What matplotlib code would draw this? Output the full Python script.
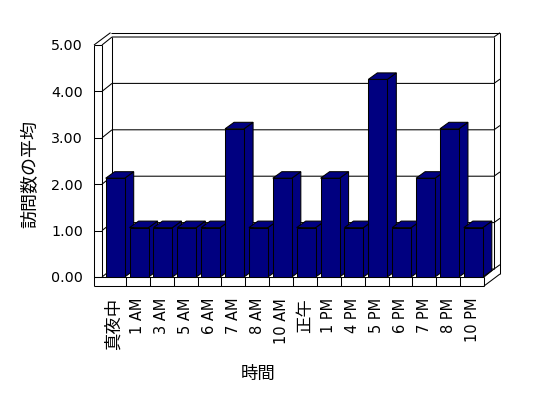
import matplotlib
matplotlib.use('Agg')
import matplotlib.pyplot as plt
from matplotlib.patches import Polygon
import numpy as np

plt.rcParams['font.family'] = ['DejaVu Sans', 'Noto Sans CJK JP']

# ---- data ----
categories = ['真夜中', '1 AM', '3 AM', '5 AM', '6 AM', '7 AM', '8 AM', '10 AM',
              '正午', '1 PM', '4 PM', '5 PM', '6 PM', '7 PM', '8 PM', '10 PM']
values = [2, 1, 1, 1, 1, 3, 1, 2, 1, 2, 1, 4, 1, 2, 3, 1]
y_ticks = [0, 1, 2, 3, 4, 5]
y_tick_labels = ['0.00', '1.00', '2.00', '3.00', '4.00', '5.00']
x_title = '時間'
y_title = '訪問数の平均'

W, H = 548, 398
fig = plt.figure(figsize=(W / 100, H / 100), dpi=100)


def fx(x):
    return x / W


def fy(y):
    return (H - y) / H


def rect(l, r, t, b):
    return [fx(l), fy(b), fx(r) - fx(l), fy(t) - fy(b)]


# ---- frame geometry (pixels) ----
FL, FR = 102, 484          # front plane left/right
FB = 277                   # front floor line
PXU = 46.4                 # px per unit on walls
DX, DY = 10, 8             # wall depth
BL, BR, BB = FL + DX, FR + DX, FB - DY
BT = BB - 5 * PXU
TX, TY = 6, 4.3            # wall thickness offsets
OUTX = 94                  # left wall outer
FLOOR_BOT = 286
BAR_PXU = 49.4             # bar px per unit (3D rendering)
LW = 0.75

canvas = fig.add_axes([0, 0, 1, 1])
canvas.set_xlim(0, W)
canvas.set_ylim(H, 0)
canvas.axis('off')
canvas.set_zorder(0)

lk = dict(color='black', lw=LW, solid_capstyle='butt')


def L(xs, ys):
    canvas.plot(xs, ys, **lk)


# left wall strip and top
L([OUTX, OUTX], [FB - 5 * PXU, FLOOR_BOT])
L([FL, FL], [FB - 5 * PXU, FB])
L([OUTX, BL - 1.5], [FB - 5 * PXU, BT - TY])
L([BL - 1.5, BR + TX], [BT - TY, BT - TY])
# left wall ticks + diagonals on inner face
for v in y_ticks:
    yf = FB - PXU * v
    L([OUTX, FL], [yf, yf])
    L([FL, BL], [yf, yf - DY])
# back wall
L([BL, BL], [BT, BB])
L([BR, BR], [BT, BB])
L([BR + TX, BR + TX], [BT - TY, BB + 5])
for v in y_ticks:
    yb = BB - PXU * v
    L([BL, BR, BR + TX], [yb, yb, yb - TY])
# floor
L([OUTX, FR], [FB, FB])
L([OUTX, FR], [FLOOR_BOT, FLOOR_BOT])
L([FR, FR], [FB, FLOOR_BOT])
L([FR, BR], [FB, BB])
L([FR, BR + TX], [FLOOR_BOT, BB + 5])
pitch = (FR - FL) / len(categories)
for i in range(1, len(categories)):
    xx = FL + pitch * i
    L([xx, xx], [FB, FLOOR_BOT])

# ---- bars ----
ax = fig.add_axes(rect(FL, FR, FB - 5 * BAR_PXU, FB))
ax.set_zorder(2)
ax.patch.set_visible(False)
for s in ax.spines.values():
    s.set_visible(False)
n = len(values)
ax.set_xlim(0, n)
ax.set_ylim(0, 5)
x = np.arange(n)
off = 3.7 / pitch
width = 19 / pitch
ddx = 9 / pitch
ddy = 6.5 / BAR_PXU
navy = '#000080'
bars = ax.bar(x + off, values, width=width, align='edge', color=navy,
              edgecolor='black', linewidth=LW)
for i, (b, v) in enumerate(zip(bars, values)):
    x0 = x[i] + off
    side = Polygon([(x0 + width, 0), (x0 + width + ddx, ddy),
                    (x0 + width + ddx, v + ddy), (x0 + width, v)],
                   closed=True, facecolor=navy, edgecolor='black', lw=LW,
                   zorder=2 + 2 * i, clip_on=False)
    top = Polygon([(x0, v), (x0 + width, v), (x0 + width + ddx, v + ddy),
                   (x0 + ddx, v + ddy)],
                  closed=True, facecolor=navy, edgecolor='black', lw=LW,
                  zorder=2 + 2 * i, clip_on=False)
    ax.add_patch(side)
    ax.add_patch(top)
    b.set_zorder(3 + 2 * i)
    b.set_clip_on(False)

ax.set_yticks([])
ax.set_xticks(x + 0.5)
ax.set_xticklabels(categories, rotation=90, va='top', ha='center')
ax.tick_params(axis='x', length=0, pad=(298 - FB) / (100 / 72))
for lab in ax.get_xticklabels():
    t = lab.get_text()
    if any(ord(c) > 0x2000 for c in t):
        lab.set_fontsize(12.5)
    else:
        lab.set_fontsize(10.5)
ax.set_xlabel(x_title, fontsize=12.5, va='center', ha='center')
ax.xaxis.set_label_coords(fx(258), fy(374), transform=fig.transFigure)

# ---- value axis labels ----
av = fig.add_axes(rect(OUTX, FL, FB - 5 * PXU, FB))
av.set_zorder(1)
av.patch.set_visible(False)
for s in av.spines.values():
    s.set_visible(False)
av.set_ylim(0, 5)
av.set_xticks([])
av.set_yticks(y_ticks)
av.set_yticklabels(y_tick_labels, fontsize=10.3)
av.tick_params(axis='y', length=0, pad=11 / (100 / 72))
av.set_ylabel(y_title, fontsize=13, va='center', ha='center')
av.yaxis.set_label_coords(fx(30), fy(174), transform=fig.transFigure)

fig.savefig('out.png', dpi=100, facecolor='white')
